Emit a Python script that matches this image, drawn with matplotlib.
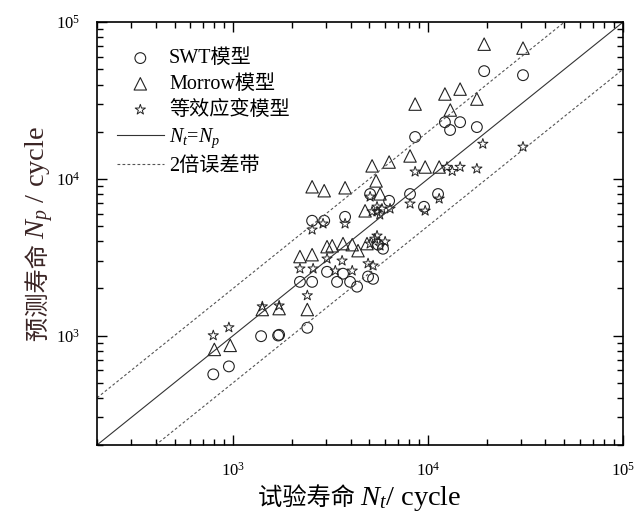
import numpy as np
import matplotlib
matplotlib.use("Agg")
import matplotlib.pyplot as plt
from matplotlib.ticker import LogLocator, NullFormatter
from matplotlib.transforms import offset_copy

plt.rcParams['font.family'] = ['Liberation Serif', 'Noto Sans CJK SC']
plt.rcParams['mathtext.fontset'] = 'custom'
plt.rcParams['mathtext.rm'] = 'Liberation Serif'
plt.rcParams['mathtext.it'] = 'Liberation Serif:italic'

# test life Nt vs predicted life Np (cycles)
swt_nt = [790, 950, 1390, 1700, 1720, 2400, 2200, 2540, 3030, 3410, 3660, 3980,
          4320, 4920, 5220, 5870, 5540, 2540, 2930, 3750, 5040, 6310, 8080, 9530,
          11250, 8580, 12200, 12970, 14600, 17800, 19400, 30700]
swt_np = [565, 635, 990, 1000, 1010, 1120, 2200, 2200, 2550, 2200, 2480, 2200,
          2050, 2380, 2300, 3580, 3800, 5400, 5400, 5720, 8000, 7240, 8000, 6630,
          8000, 18500, 23000, 20500, 23000, 21400, 48700, 45900]

morrow_nt = [800, 965, 1410, 1720, 2400, 2200, 2540, 3030, 3220, 3660, 4080, 4370,
             4860, 2540, 2930, 3750, 4750, 5410, 5670, 5160, 6310, 8080, 9660,
             11400, 8580, 12200, 14600, 17800, 13000, 19400, 30700]
morrow_np = [815, 865, 1465, 1485, 1465, 3190, 3280, 3690, 3740, 3860, 3800, 3480,
             3860, 8900, 8400, 8770, 6250, 9700, 8020, 12100, 12800, 14000, 11900,
             11900, 30000, 34800, 37400, 32300, 27500, 72400, 68300]

eq_nt = [790, 950, 1410, 1720, 2400, 2200, 2570, 3030, 3620, 3340, 4080, 4920,
         5220, 2540, 2890, 3750, 5040, 8080, 9660, 11400, 6380, 8580, 12500,
         13300, 14600, 17800, 19100, 30700, 5160, 5470, 5800, 5470, 5650, 5470,
         5040, 5330, 5670, 6020]
eq_np = [1000, 1125, 1530, 1550, 1800, 2670, 2670, 3090, 3000, 2590, 2590, 2880,
         2790, 4730, 5170, 5170, 7680, 6930, 6250, 7460, 6440, 11100, 11900,
         11200, 11900, 11600, 16700, 16000, 6180, 6180, 6430, 6630, 5900, 4330,
         3850, 4140, 3740, 3970]

band_factor = 2
lim = (200, 1e5)

CJK = 'Noto Sans CJK SC'
SERIF = 'Liberation Serif'


def mixed_label(ax, pieces, x, y, rotation=0, color='black'):
    """Lay out (text, family, size) pieces end to end, centred on (x, y)."""
    fig = ax.figure
    texts = []
    for s, fam, size in pieces:
        t = ax.text(x, y, s, transform=ax.transAxes, family=fam, fontsize=size,
                    color=color, rotation=rotation, rotation_mode='anchor',
                    ha='left', va='baseline', clip_on=False)
        texts.append(t)
    fig.canvas.draw()
    r = fig.canvas.get_renderer()
    lens = []
    for t in texts:
        bb = t.get_window_extent(r)
        lens.append(bb.height if rotation == 90 else bb.width)
    pos = -sum(lens) / 2
    for t, ln in zip(texts, lens):
        dx, dy = (0, pos) if rotation == 90 else (pos, 0)
        t.set_transform(offset_copy(ax.transAxes, fig=fig, x=dx, y=dy, units='dots'))
        pos += ln
    return texts


fig = plt.figure(figsize=(6.35, 5.16), dpi=100)
ax = fig.add_axes([0.1528, 0.1376, 0.8282, 0.8194])

ax.scatter(swt_nt, swt_np, s=60, marker='o', facecolors='none',
           edgecolors='#222222', linewidths=0.8, label='SWT模型')
ax.scatter(morrow_nt, morrow_np, s=80, marker='^', facecolors='none',
           edgecolors='#222222', linewidths=0.8, label='Morrow模型')
ax.scatter(eq_nt, eq_np, s=60, marker='*', facecolors='none',
           edgecolors='#222222', linewidths=0.7, label='等效应变模型')

xs = np.array(lim)
ax.plot(xs, xs, color='#333333', lw=0.8, label='$N_t$=$N_p$')
ax.plot(xs, xs * band_factor, color='#555555', lw=0.8, ls=(0, (2.5, 2)),
        label='2倍误差带')
ax.plot(xs, xs / band_factor, color='#555555', lw=0.8, ls=(0, (2.5, 2)))

ax.set_xscale('log')
ax.set_yscale('log')
ax.set_xlim(*lim)
ax.set_ylim(*lim)

for axis in (ax.xaxis, ax.yaxis):
    axis.set_major_locator(LogLocator(base=10, numticks=10))
    axis.set_minor_locator(LogLocator(base=10, subs=np.arange(2, 10), numticks=10))
    axis.set_minor_formatter(NullFormatter())
ax.tick_params(which='both', direction='in', top=True, right=True,
               labelsize=12, width=1.0)
ax.tick_params(which='major', length=7, pad=12)
ax.tick_params(which='minor', length=4)
for sp in ax.spines.values():
    sp.set_linewidth(1.2)

leg = ax.legend(loc='upper left', frameon=False, fontsize=14.5, handlelength=2.35,
                handletextpad=0.25, labelspacing=0.33, borderaxespad=0.0,
                bbox_to_anchor=(0.022, 0.955), markerscale=1.0)
for t in leg.get_texts():
    t.set_family([SERIF, CJK])

mixed_label(ax, [('试验寿命 ', CJK, 17.5), ('$N_t$/ cycle', SERIF, 20.5)], 0.5, -0.142)
mixed_label(ax, [('预测寿命 ', CJK, 17.5), ('$N_p$ / cycle', SERIF, 20.5)], -0.098, 0.5,
            rotation=90, color='#3a2424')

fig.savefig('out.png', dpi=100)
